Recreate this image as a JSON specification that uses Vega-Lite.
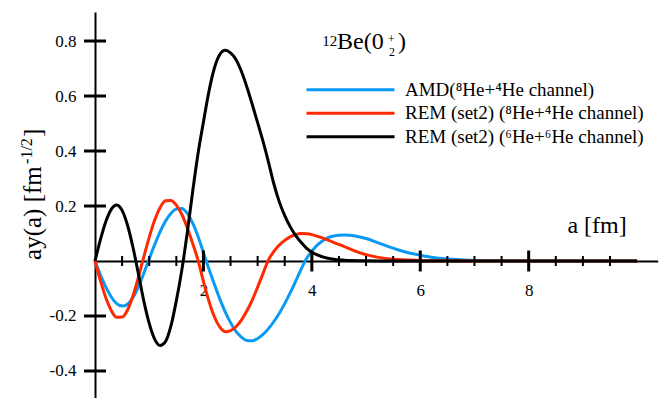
{
  "$schema": "https://vega.github.io/schema/vega-lite/v6.json",
  "width": 562.7,
  "height": 386,
  "autosize": {"type": "none"},
  "padding": {"left": 95, "top": 12, "right": 7.3, "bottom": 0},
  "resolve": {"axis": {"x": "independent", "y": "independent"}},
  "config": {
    "view": {"stroke": null},
    "font": "Liberation Serif",
    "axis": {"labelFont": "Liberation Serif", "titleFont": "Liberation Serif"},
    "text": {"font": "Liberation Serif", "color": "black"},
    "legend": {
      "orient": "none",
      "legendX": 244,
      "legendY": 66.3,
      "symbolType": "M-4.4,0H4.4",
      "symbolSize": 400,
      "symbolStrokeWidth": 3,
      "labelFont": "Liberation Serif",
      "labelFontSize": 19,
      "labelColor": "black",
      "labelOffset": 43,
      "labelLimit": 400,
      "rowPadding": 1.5,
      "padding": 0
    }
  },
  "datasets": {
    "curves": [
      {"a":0,"v":0,"s":"AMD(⁸He+⁴He channel)"},{"a":0.1,"v":-0.05,"s":"AMD(⁸He+⁴He channel)"},{"a":0.2,"v":-0.095,"s":"AMD(⁸He+⁴He channel)"},{"a":0.3,"v":-0.131,"s":"AMD(⁸He+⁴He channel)"},{"a":0.4,"v":-0.155,"s":"AMD(⁸He+⁴He channel)"},{"a":0.5,"v":-0.164,"s":"AMD(⁸He+⁴He channel)"},{"a":0.6,"v":-0.157,"s":"AMD(⁸He+⁴He channel)"},{"a":0.7,"v":-0.133,"s":"AMD(⁸He+⁴He channel)"},{"a":0.8,"v":-0.094,"s":"AMD(⁸He+⁴He channel)"},{"a":0.9,"v":-0.045,"s":"AMD(⁸He+⁴He channel)"},{"a":1.0,"v":0.008,"s":"AMD(⁸He+⁴He channel)"},{"a":1.1,"v":0.059,"s":"AMD(⁸He+⁴He channel)"},{"a":1.2,"v":0.106,"s":"AMD(⁸He+⁴He channel)"},{"a":1.3,"v":0.145,"s":"AMD(⁸He+⁴He channel)"},{"a":1.4,"v":0.173,"s":"AMD(⁸He+⁴He channel)"},{"a":1.5,"v":0.189,"s":"AMD(⁸He+⁴He channel)"},{"a":1.6,"v":0.191,"s":"AMD(⁸He+⁴He channel)"},{"a":1.7,"v":0.174,"s":"AMD(⁸He+⁴He channel)"},{"a":1.8,"v":0.139,"s":"AMD(⁸He+⁴He channel)"},{"a":1.9,"v":0.09,"s":"AMD(⁸He+⁴He channel)"},{"a":2.0,"v":0.031,"s":"AMD(⁸He+⁴He channel)"},{"a":2.1,"v":-0.028,"s":"AMD(⁸He+⁴He channel)"},{"a":2.2,"v":-0.084,"s":"AMD(⁸He+⁴He channel)"},{"a":2.3,"v":-0.137,"s":"AMD(⁸He+⁴He channel)"},{"a":2.4,"v":-0.184,"s":"AMD(⁸He+⁴He channel)"},{"a":2.5,"v":-0.224,"s":"AMD(⁸He+⁴He channel)"},{"a":2.6,"v":-0.256,"s":"AMD(⁸He+⁴He channel)"},{"a":2.7,"v":-0.277,"s":"AMD(⁸He+⁴He channel)"},{"a":2.8,"v":-0.289,"s":"AMD(⁸He+⁴He channel)"},{"a":2.9,"v":-0.29,"s":"AMD(⁸He+⁴He channel)"},{"a":3.0,"v":-0.282,"s":"AMD(⁸He+⁴He channel)"},{"a":3.1,"v":-0.267,"s":"AMD(⁸He+⁴He channel)"},{"a":3.2,"v":-0.246,"s":"AMD(⁸He+⁴He channel)"},{"a":3.3,"v":-0.22,"s":"AMD(⁸He+⁴He channel)"},{"a":3.4,"v":-0.19,"s":"AMD(⁸He+⁴He channel)"},{"a":3.5,"v":-0.155,"s":"AMD(⁸He+⁴He channel)"},{"a":3.6,"v":-0.116,"s":"AMD(⁸He+⁴He channel)"},{"a":3.7,"v":-0.074,"s":"AMD(⁸He+⁴He channel)"},{"a":3.8,"v":-0.031,"s":"AMD(⁸He+⁴He channel)"},{"a":3.9,"v":0.008,"s":"AMD(⁸He+⁴He channel)"},{"a":4.0,"v":0.036,"s":"AMD(⁸He+⁴He channel)"},{"a":4.1,"v":0.058,"s":"AMD(⁸He+⁴He channel)"},{"a":4.2,"v":0.074,"s":"AMD(⁸He+⁴He channel)"},{"a":4.3,"v":0.085,"s":"AMD(⁸He+⁴He channel)"},{"a":4.4,"v":0.091,"s":"AMD(⁸He+⁴He channel)"},{"a":4.5,"v":0.094,"s":"AMD(⁸He+⁴He channel)"},{"a":4.6,"v":0.095,"s":"AMD(⁸He+⁴He channel)"},{"a":4.7,"v":0.094,"s":"AMD(⁸He+⁴He channel)"},{"a":4.8,"v":0.091,"s":"AMD(⁸He+⁴He channel)"},{"a":5.0,"v":0.082,"s":"AMD(⁸He+⁴He channel)"},{"a":5.2,"v":0.068,"s":"AMD(⁸He+⁴He channel)"},{"a":5.4,"v":0.053,"s":"AMD(⁸He+⁴He channel)"},{"a":5.6,"v":0.04,"s":"AMD(⁸He+⁴He channel)"},{"a":5.8,"v":0.029,"s":"AMD(⁸He+⁴He channel)"},{"a":6.0,"v":0.021,"s":"AMD(⁸He+⁴He channel)"},{"a":6.2,"v":0.014,"s":"AMD(⁸He+⁴He channel)"},{"a":6.4,"v":0.009,"s":"AMD(⁸He+⁴He channel)"},{"a":6.6,"v":0.006,"s":"AMD(⁸He+⁴He channel)"},{"a":7.0,"v":0.002,"s":"AMD(⁸He+⁴He channel)"},{"a":7.5,"v":0.0005,"s":"AMD(⁸He+⁴He channel)"},{"a":8.0,"v":0,"s":"AMD(⁸He+⁴He channel)"},{"a":10.0,"v":0,"s":"AMD(⁸He+⁴He channel)"},
      {"a":0,"v":0,"s":"REM (set2) (⁸He+⁴He channel)"},{"a":0.1,"v":-0.071,"s":"REM (set2) (⁸He+⁴He channel)"},{"a":0.2,"v":-0.134,"s":"REM (set2) (⁸He+⁴He channel)"},{"a":0.3,"v":-0.18,"s":"REM (set2) (⁸He+⁴He channel)"},{"a":0.4,"v":-0.205,"s":"REM (set2) (⁸He+⁴He channel)"},{"a":0.5,"v":-0.204,"s":"REM (set2) (⁸He+⁴He channel)"},{"a":0.6,"v":-0.178,"s":"REM (set2) (⁸He+⁴He channel)"},{"a":0.7,"v":-0.127,"s":"REM (set2) (⁸He+⁴He channel)"},{"a":0.8,"v":-0.06,"s":"REM (set2) (⁸He+⁴He channel)"},{"a":0.9,"v":0.015,"s":"REM (set2) (⁸He+⁴He channel)"},{"a":1.0,"v":0.086,"s":"REM (set2) (⁸He+⁴He channel)"},{"a":1.1,"v":0.148,"s":"REM (set2) (⁸He+⁴He channel)"},{"a":1.2,"v":0.194,"s":"REM (set2) (⁸He+⁴He channel)"},{"a":1.3,"v":0.219,"s":"REM (set2) (⁸He+⁴He channel)"},{"a":1.4,"v":0.22,"s":"REM (set2) (⁸He+⁴He channel)"},{"a":1.5,"v":0.203,"s":"REM (set2) (⁸He+⁴He channel)"},{"a":1.6,"v":0.17,"s":"REM (set2) (⁸He+⁴He channel)"},{"a":1.7,"v":0.122,"s":"REM (set2) (⁸He+⁴He channel)"},{"a":1.8,"v":0.065,"s":"REM (set2) (⁸He+⁴He channel)"},{"a":1.9,"v":0.003,"s":"REM (set2) (⁸He+⁴He channel)"},{"a":2.0,"v":-0.074,"s":"REM (set2) (⁸He+⁴He channel)"},{"a":2.1,"v":-0.145,"s":"REM (set2) (⁸He+⁴He channel)"},{"a":2.2,"v":-0.202,"s":"REM (set2) (⁸He+⁴He channel)"},{"a":2.3,"v":-0.24,"s":"REM (set2) (⁸He+⁴He channel)"},{"a":2.4,"v":-0.257,"s":"REM (set2) (⁸He+⁴He channel)"},{"a":2.5,"v":-0.253,"s":"REM (set2) (⁸He+⁴He channel)"},{"a":2.6,"v":-0.239,"s":"REM (set2) (⁸He+⁴He channel)"},{"a":2.7,"v":-0.215,"s":"REM (set2) (⁸He+⁴He channel)"},{"a":2.8,"v":-0.182,"s":"REM (set2) (⁸He+⁴He channel)"},{"a":2.9,"v":-0.142,"s":"REM (set2) (⁸He+⁴He channel)"},{"a":3.0,"v":-0.095,"s":"REM (set2) (⁸He+⁴He channel)"},{"a":3.1,"v":-0.045,"s":"REM (set2) (⁸He+⁴He channel)"},{"a":3.2,"v":0.004,"s":"REM (set2) (⁸He+⁴He channel)"},{"a":3.3,"v":0.035,"s":"REM (set2) (⁸He+⁴He channel)"},{"a":3.4,"v":0.058,"s":"REM (set2) (⁸He+⁴He channel)"},{"a":3.5,"v":0.075,"s":"REM (set2) (⁸He+⁴He channel)"},{"a":3.6,"v":0.088,"s":"REM (set2) (⁸He+⁴He channel)"},{"a":3.7,"v":0.096,"s":"REM (set2) (⁸He+⁴He channel)"},{"a":3.8,"v":0.1,"s":"REM (set2) (⁸He+⁴He channel)"},{"a":3.9,"v":0.099,"s":"REM (set2) (⁸He+⁴He channel)"},{"a":4.0,"v":0.096,"s":"REM (set2) (⁸He+⁴He channel)"},{"a":4.2,"v":0.083,"s":"REM (set2) (⁸He+⁴He channel)"},{"a":4.4,"v":0.068,"s":"REM (set2) (⁸He+⁴He channel)"},{"a":4.6,"v":0.052,"s":"REM (set2) (⁸He+⁴He channel)"},{"a":4.8,"v":0.036,"s":"REM (set2) (⁸He+⁴He channel)"},{"a":5.0,"v":0.023,"s":"REM (set2) (⁸He+⁴He channel)"},{"a":5.2,"v":0.014,"s":"REM (set2) (⁸He+⁴He channel)"},{"a":5.5,"v":0.006,"s":"REM (set2) (⁸He+⁴He channel)"},{"a":6.0,"v":0.002,"s":"REM (set2) (⁸He+⁴He channel)"},{"a":6.5,"v":0.0005,"s":"REM (set2) (⁸He+⁴He channel)"},{"a":7.0,"v":0,"s":"REM (set2) (⁸He+⁴He channel)"},{"a":10.0,"v":0,"s":"REM (set2) (⁸He+⁴He channel)"},
      {"a":0,"v":0,"s":"REM (set2) (⁶He+⁶He channel)"},{"a":0.1,"v":0.078,"s":"REM (set2) (⁶He+⁶He channel)"},{"a":0.2,"v":0.144,"s":"REM (set2) (⁶He+⁶He channel)"},{"a":0.3,"v":0.188,"s":"REM (set2) (⁶He+⁶He channel)"},{"a":0.4,"v":0.204,"s":"REM (set2) (⁶He+⁶He channel)"},{"a":0.5,"v":0.184,"s":"REM (set2) (⁶He+⁶He channel)"},{"a":0.6,"v":0.13,"s":"REM (set2) (⁶He+⁶He channel)"},{"a":0.7,"v":0.05,"s":"REM (set2) (⁶He+⁶He channel)"},{"a":0.8,"v":-0.046,"s":"REM (set2) (⁶He+⁶He channel)"},{"a":0.9,"v":-0.145,"s":"REM (set2) (⁶He+⁶He channel)"},{"a":1.0,"v":-0.227,"s":"REM (set2) (⁶He+⁶He channel)"},{"a":1.1,"v":-0.284,"s":"REM (set2) (⁶He+⁶He channel)"},{"a":1.2,"v":-0.307,"s":"REM (set2) (⁶He+⁶He channel)"},{"a":1.3,"v":-0.293,"s":"REM (set2) (⁶He+⁶He channel)"},{"a":1.4,"v":-0.237,"s":"REM (set2) (⁶He+⁶He channel)"},{"a":1.5,"v":-0.145,"s":"REM (set2) (⁶He+⁶He channel)"},{"a":1.6,"v":-0.035,"s":"REM (set2) (⁶He+⁶He channel)"},{"a":1.7,"v":0.1,"s":"REM (set2) (⁶He+⁶He channel)"},{"a":1.8,"v":0.25,"s":"REM (set2) (⁶He+⁶He channel)"},{"a":1.9,"v":0.39,"s":"REM (set2) (⁶He+⁶He channel)"},{"a":2.0,"v":0.505,"s":"REM (set2) (⁶He+⁶He channel)"},{"a":2.1,"v":0.615,"s":"REM (set2) (⁶He+⁶He channel)"},{"a":2.2,"v":0.7,"s":"REM (set2) (⁶He+⁶He channel)"},{"a":2.3,"v":0.75,"s":"REM (set2) (⁶He+⁶He channel)"},{"a":2.4,"v":0.766,"s":"REM (set2) (⁶He+⁶He channel)"},{"a":2.5,"v":0.757,"s":"REM (set2) (⁶He+⁶He channel)"},{"a":2.6,"v":0.733,"s":"REM (set2) (⁶He+⁶He channel)"},{"a":2.7,"v":0.69,"s":"REM (set2) (⁶He+⁶He channel)"},{"a":2.8,"v":0.634,"s":"REM (set2) (⁶He+⁶He channel)"},{"a":2.9,"v":0.57,"s":"REM (set2) (⁶He+⁶He channel)"},{"a":3.0,"v":0.503,"s":"REM (set2) (⁶He+⁶He channel)"},{"a":3.1,"v":0.435,"s":"REM (set2) (⁶He+⁶He channel)"},{"a":3.2,"v":0.36,"s":"REM (set2) (⁶He+⁶He channel)"},{"a":3.3,"v":0.28,"s":"REM (set2) (⁶He+⁶He channel)"},{"a":3.4,"v":0.215,"s":"REM (set2) (⁶He+⁶He channel)"},{"a":3.5,"v":0.165,"s":"REM (set2) (⁶He+⁶He channel)"},{"a":3.6,"v":0.125,"s":"REM (set2) (⁶He+⁶He channel)"},{"a":3.7,"v":0.093,"s":"REM (set2) (⁶He+⁶He channel)"},{"a":3.8,"v":0.068,"s":"REM (set2) (⁶He+⁶He channel)"},{"a":3.9,"v":0.047,"s":"REM (set2) (⁶He+⁶He channel)"},{"a":4.0,"v":0.032,"s":"REM (set2) (⁶He+⁶He channel)"},{"a":4.2,"v":0.015,"s":"REM (set2) (⁶He+⁶He channel)"},{"a":4.4,"v":0.006,"s":"REM (set2) (⁶He+⁶He channel)"},{"a":4.6,"v":0.003,"s":"REM (set2) (⁶He+⁶He channel)"},{"a":5.0,"v":0.001,"s":"REM (set2) (⁶He+⁶He channel)"},{"a":5.5,"v":0,"s":"REM (set2) (⁶He+⁶He channel)"},{"a":10.0,"v":0,"s":"REM (set2) (⁶He+⁶He channel)"}
    ],
    "xminor": [{"a":0.5},{"a":1},{"a":1.5},{"a":2.5},{"a":3},{"a":3.5},{"a":4.5},{"a":5},{"a":5.5},{"a":6.5},{"a":7},{"a":7.5},{"a":8.5},{"a":9},{"a":9.5}],
    "xmajor": [{"a":2},{"a":4},{"a":6},{"a":8}],
    "ymajor": [{"v":-0.4},{"v":-0.2},{"v":0.2},{"v":0.4},{"v":0.6},{"v":0.8}],
    "one": [{}]
  },
  "layer": [
    {
      "data": {"name": "curves"},
      "mark": {"type": "line", "strokeWidth": 3, "interpolate": "monotone"},
      "encoding": {
        "x": {"field": "a", "type": "quantitative", "scale": {"domain": [0, 10.38], "nice": false, "zero": false},
          "axis": {"orient": "bottom", "offset": -137, "values": [2, 4, 6, 8], "ticks": false, "labelPadding": 21, "labelFontSize": 17, "labelFont": "Liberation Serif", "labelColor": "black", "labelOverlap": false, "domainColor": "black", "domainWidth": 2, "grid": false, "title": null}},
        "y": {"field": "v", "type": "quantitative", "scale": {"domain": [-0.4982, 0.9055], "nice": false, "zero": false},
          "axis": {"orient": "left", "values": [-0.4, -0.2, 0.2, 0.4, 0.6, 0.8], "ticks": false, "labelPadding": 19, "labelFontSize": 17, "labelFont": "Liberation Serif", "labelColor": "black", "labelOverlap": false, "labelExpr": "datum.value < 0 ? '-' + format(-datum.value, '.1f') : format(datum.value, '.1f')", "domainColor": "black", "domainWidth": 2, "grid": false, "title": null}},
        "color": {"field": "s", "type": "nominal",
          "scale": {"domain": ["AMD(⁸He+⁴He channel)", "REM (set2) (⁸He+⁴He channel)", "REM (set2) (⁶He+⁶He channel)"], "range": ["#0a9af5", "#ff2a00", "#000000"]},
          "legend": {"title": null}}
      }
    },
    {
      "data": {"name": "xminor"},
      "mark": {"type": "tick", "orient": "vertical", "size": 10, "thickness": 2, "color": "black", "opacity": 1},
      "encoding": {
        "x": {"field": "a", "type": "quantitative", "scale": {"domain": [0, 10.38], "nice": false, "zero": false}, "axis": null},
        "y": {"datum": 0, "type": "quantitative", "scale": {"domain": [-0.4982, 0.9055], "nice": false, "zero": false}, "axis": null}
      }
    },
    {
      "data": {"name": "xmajor"},
      "mark": {"type": "tick", "orient": "vertical", "size": 21, "thickness": 3, "color": "black", "opacity": 1},
      "encoding": {
        "x": {"field": "a", "type": "quantitative", "scale": {"domain": [0, 10.38], "nice": false, "zero": false}, "axis": null},
        "y": {"datum": 0, "type": "quantitative", "scale": {"domain": [-0.4982, 0.9055], "nice": false, "zero": false}, "axis": null}
      }
    },
    {
      "data": {"name": "ymajor"},
      "mark": {"type": "tick", "orient": "horizontal", "size": 22, "thickness": 3, "color": "black", "opacity": 1},
      "encoding": {
        "x": {"datum": 0, "type": "quantitative", "scale": {"domain": [0, 10.38], "nice": false, "zero": false}, "axis": null},
        "y": {"field": "v", "type": "quantitative", "scale": {"domain": [-0.4982, 0.9055], "nice": false, "zero": false}, "axis": null}
      }
    },
    {
      "data": {"name": "one"},
      "mark": {"type": "text", "angle": 270, "align": "left", "baseline": "alphabetic", "fontSize": 25, "font": "Liberation Serif", "color": "black"},
      "encoding": {
        "x": {"datum": -1.005, "type": "quantitative", "scale": {"domain": [0, 10.38], "nice": false, "zero": false}, "axis": null},
        "y": {"datum": 0.004, "type": "quantitative", "scale": {"domain": [-0.4982, 0.9055], "nice": false, "zero": false}, "axis": null},
        "text": {"value": "ay(a) [fm"}
      }
    },
    {
      "data": {"name": "one"},
      "mark": {"type": "text", "angle": 270, "align": "left", "baseline": "alphabetic", "fontSize": 16, "font": "Liberation Serif", "color": "black"},
      "encoding": {
        "x": {"datum": -1.17, "type": "quantitative", "scale": {"domain": [0, 10.38], "nice": false, "zero": false}, "axis": null},
        "y": {"datum": 0.353, "type": "quantitative", "scale": {"domain": [-0.4982, 0.9055], "nice": false, "zero": false}, "axis": null},
        "text": {"value": "-1/2"}
      }
    },
    {
      "data": {"name": "one"},
      "mark": {"type": "text", "angle": 270, "align": "left", "baseline": "alphabetic", "fontSize": 25, "font": "Liberation Serif", "color": "black"},
      "encoding": {
        "x": {"datum": -1.005, "type": "quantitative", "scale": {"domain": [0, 10.38], "nice": false, "zero": false}, "axis": null},
        "y": {"datum": 0.451, "type": "quantitative", "scale": {"domain": [-0.4982, 0.9055], "nice": false, "zero": false}, "axis": null},
        "text": {"value": "]"}
      }
    },
    {
      "data": {"name": "one"},
      "mark": {"type": "text", "align": "center", "baseline": "alphabetic", "fontSize": 24, "font": "Liberation Serif", "color": "black"},
      "encoding": {
        "x": {"datum": 9.262, "type": "quantitative", "scale": {"domain": [0, 10.38], "nice": false, "zero": false}, "axis": null},
        "y": {"datum": 0.102, "type": "quantitative", "scale": {"domain": [-0.4982, 0.9055], "nice": false, "zero": false}, "axis": null},
        "text": {"value": "a [fm]"}
      }
    },
    {
      "data": {"name": "one"},
      "mark": {"type": "text", "align": "left", "baseline": "alphabetic", "fontSize": 15, "font": "Liberation Serif", "color": "black"},
      "encoding": {
        "x": {"datum": 4.19, "type": "quantitative", "scale": {"domain": [0, 10.38], "nice": false, "zero": false}, "axis": null},
        "y": {"datum": 0.782, "type": "quantitative", "scale": {"domain": [-0.4982, 0.9055], "nice": false, "zero": false}, "axis": null},
        "text": {"value": "12"}
      }
    },
    {
      "data": {"name": "one"},
      "mark": {"type": "text", "align": "left", "baseline": "alphabetic", "fontSize": 24, "font": "Liberation Serif", "color": "black"},
      "encoding": {
        "x": {"datum": 4.465, "type": "quantitative", "scale": {"domain": [0, 10.38], "nice": false, "zero": false}, "axis": null},
        "y": {"datum": 0.77, "type": "quantitative", "scale": {"domain": [-0.4982, 0.9055], "nice": false, "zero": false}, "axis": null},
        "text": {"value": "Be(0"}
      }
    },
    {
      "data": {"name": "one"},
      "mark": {"type": "text", "align": "left", "baseline": "alphabetic", "fontSize": 12, "font": "Liberation Serif", "color": "black"},
      "encoding": {
        "x": {"datum": 5.406, "type": "quantitative", "scale": {"domain": [0, 10.38], "nice": false, "zero": false}, "axis": null},
        "y": {"datum": 0.7927, "type": "quantitative", "scale": {"domain": [-0.4982, 0.9055], "nice": false, "zero": false}, "axis": null},
        "text": {"value": "+"}
      }
    },
    {
      "data": {"name": "one"},
      "mark": {"type": "text", "align": "left", "baseline": "alphabetic", "fontSize": 12, "font": "Liberation Serif", "color": "black"},
      "encoding": {
        "x": {"datum": 5.424, "type": "quantitative", "scale": {"domain": [0, 10.38], "nice": false, "zero": false}, "axis": null},
        "y": {"datum": 0.7455, "type": "quantitative", "scale": {"domain": [-0.4982, 0.9055], "nice": false, "zero": false}, "axis": null},
        "text": {"value": "2"}
      }
    },
    {
      "data": {"name": "one"},
      "mark": {"type": "text", "align": "left", "baseline": "alphabetic", "fontSize": 24, "font": "Liberation Serif", "color": "black"},
      "encoding": {
        "x": {"datum": 5.59, "type": "quantitative", "scale": {"domain": [0, 10.38], "nice": false, "zero": false}, "axis": null},
        "y": {"datum": 0.77, "type": "quantitative", "scale": {"domain": [-0.4982, 0.9055], "nice": false, "zero": false}, "axis": null},
        "text": {"value": ")"}
      }
    }
  ]
}
